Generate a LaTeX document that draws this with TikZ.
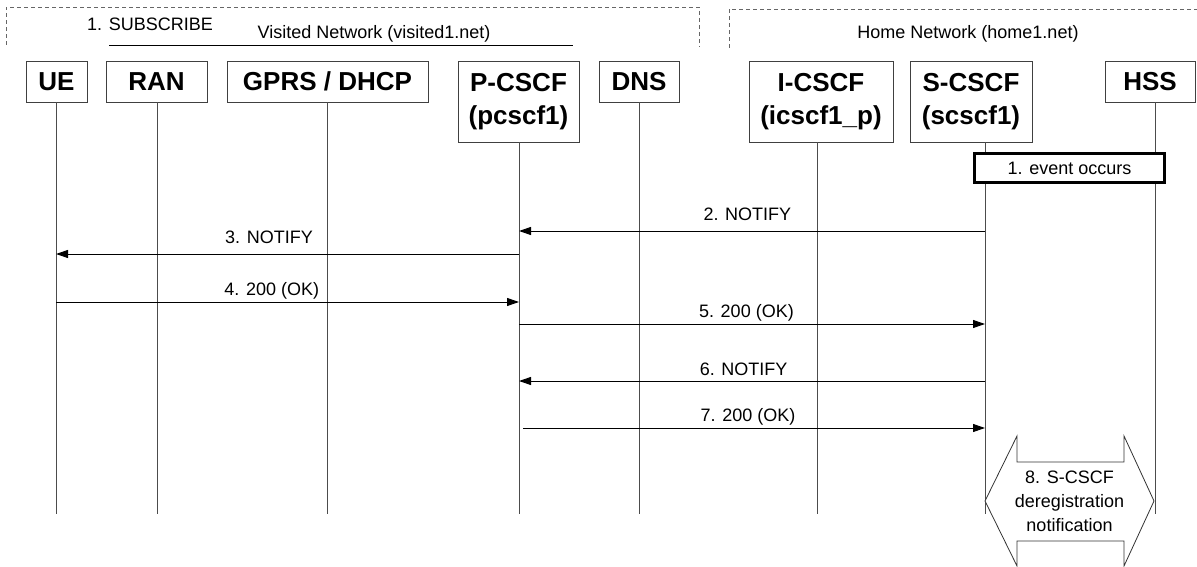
\documentclass[tikz,border=0pt]{standalone}
\usepackage{fontspec}
\setmainfont{Liberation Sans}
\usetikzlibrary{arrows.meta,positioning}

\tikzset{
  entity/.style={draw=black!75, fill=white, anchor=north, align=center, inner sep=0pt,
    minimum height=41pt, font=\fontsize{26}{33}\selectfont\bfseries},
  lifeline/.style={draw=black!70, line width=1pt},
  msg/.style={->, line width=1pt},
  msglabel/.style={above, inner sep=2pt, font=\fontsize{18}{22}\selectfont},
  txt/.style={inner sep=0pt, font=\fontsize{18}{22}\selectfont},
  netbox/.style={draw=black!60, line width=0.8pt, dash pattern=on 4pt off 3pt},
}

\begin{document}
\begin{tikzpicture}[x=1pt, y=-1pt, >={Triangle[length=12pt,width=8pt]}]
        \useasboundingbox (0,0) rectangle (1197,567);
        % network areas
        \draw [netbox] (6,45) -- (6,7) -- (699,7) -- (699,47);
        \draw [netbox] (729,48) -- (729,9) -- (1197,9);
        \node [txt] (subscribe) at (150,24) {1. SUBSCRIBE};
        \node [txt] (visited) at (374,34) {Visited Network (visited1.net)};
        \node [txt] (home) at (968,34) {Home Network (home1.net)};
        \draw [line width=1pt] (109,46) -- (573,46);
        % entities
        \node [entity, minimum width=61pt] (ue) at (56.5,61) {UE};
        \node [entity, minimum width=101pt] (ran) at (156.5,61) {RAN};
        \node [entity, minimum width=201pt] (gprs) at (327.5,61) {GPRS / DHCP};
        \node [entity, minimum width=121pt, minimum height=81pt] (pcscf) at (518.5,61) {P-CSCF\\(pcscf1)};
        \node [entity, minimum width=80pt] (dns) at (639,61) {DNS};
        \node [entity, minimum width=144pt, minimum height=81pt] (icscf) at (821,61) {I-CSCF\\(icscf1\_p)};
        \node [entity, minimum width=122pt, minimum height=81pt] (scscf) at (971,61) {S-CSCF\\(scscf1)};
        \node [entity, minimum width=90pt] (hss) at (1150,61) {HSS};
        \foreach \n/\x in {ue/56, ran/157, gprs/327.6, pcscf/519, dns/639, icscf/817, scscf/985, hss/1155} {
          \coordinate (\n-end) at (\x,514);
          \draw [lifeline] (\n.south -| \n-end) -- (\n-end);
        }
        \node [draw, fill=white, line width=3pt, minimum width=190pt, minimum height=29pt, txt] (event) at (1069.5,168) {1. event occurs};
        % messages
        \draw [msg] (scscf-end |- 0,231) -- node [msglabel, pos=.51, yshift=8pt] {2. NOTIFY} (pcscf-end |- 0,231);
        \draw [msg] (pcscf-end |- 0,254) -- node [msglabel, pos=.54, yshift=8pt] {3. NOTIFY} (ue-end |- 0,254);
        \draw [msg] (ue-end |- 0,302) -- node [msglabel, pos=.466] {4. 200 (OK)} (pcscf-end |- 0,302);
        \draw [msg] (pcscf-end |- 0,324) -- node [msglabel, pos=.488] {5. 200 (OK)} (scscf-end |- 0,324);
        \draw [msg] (scscf-end |- 0,381) -- node [msglabel, pos=.518, yshift=3pt] {6. NOTIFY} (pcscf-end |- 0,381);
        \draw [msg] ([xshift=4pt]pcscf-end |- 0,428) -- node [msglabel, pos=.487] {7. 200 (OK)} (scscf-end |- 0,428);
        % deregistration notification
        \draw [draw=black!80, fill=white, line width=0.8pt] (985,501) -- (1017,436) -- (1017,462) -- (1124,462) -- (1124,436)
          -- (1154,501) -- (1124,566) -- (1124,541) -- (1017,541) -- (1017,566) -- cycle;
        \node [txt, align=center, font=\fontsize{18}{24}\selectfont] (dereg) at (1069.5,501) {8. S-CSCF\\deregistration\\notification};
      \end{tikzpicture}
\end{document}
